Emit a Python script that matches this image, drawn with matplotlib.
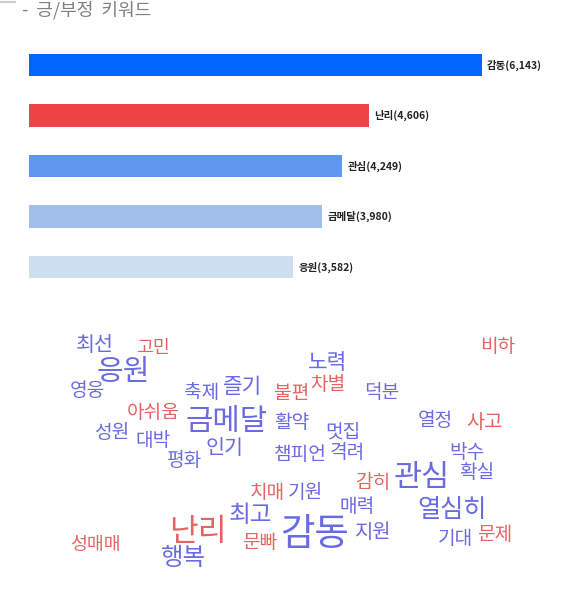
import matplotlib.pyplot as plt
from matplotlib.lines import Line2D

plt.rcParams['font.family'] = ['Noto Sans CJK KR', 'DejaVu Sans']

# bar chart data
keywords = ['감동', '난리', '관심', '금메달', '응원']
counts = [6143, 4606, 4249, 3980, 3582]
bar_colors = ['#0066ff', '#ef4444', '#6097ec', '#a1bfea', '#cedef1']

# word cloud data (word, sentiment: 1 = positive, 0 = negative)
words = ['최선', '고민', '응원', '영웅', '축제', '즐기', '불편', '차별', '노력', '덕분',
         '비하', '아쉬움', '금메달', '활약', '성원', '대박', '멋집', '열정', '사고', '인기',
         '평화', '챔피언', '격려', '박수', '관심', '감히', '확실', '치매', '기원', '매력',
         '열심히', '최고', '난리', '감동', '지원', '기대', '문제', '성매매', '문빠', '행복']
sentiment = [1, 0, 1, 1, 1, 1, 0, 0, 1, 1,
             0, 0, 1, 1, 1, 1, 1, 1, 0, 1,
             1, 1, 1, 1, 1, 0, 1, 0, 1, 1,
             1, 1, 0, 1, 1, 1, 0, 0, 0, 1]

# layout of the cloud in pixels (x, y from top-left) and font size in pt
cloud_x = [95, 153, 123, 87, 202, 243, 292, 328, 328, 382,
           498, 153, 227, 292, 112, 153, 343, 435, 485, 225,
           185, 300, 347, 467, 422, 373, 477, 267, 305, 357,
           452, 250, 198, 315, 373, 455, 495, 95, 260, 183]
cloud_y = [345, 348, 372, 390, 393, 387, 393, 385, 363, 393,
           347, 412, 422, 422, 432, 440, 432, 420, 422, 448,
           460, 455, 453, 452, 477, 482, 472, 493, 493, 507,
           510, 515, 532, 535, 533, 538, 535, 545, 543, 558]
cloud_size = [13.5, 12, 19, 12.5, 12.5, 14, 12.5, 12.5, 14, 12.5,
              12.5, 12.5, 19.5, 12.5, 12.5, 12.5, 12.5, 12.5, 13, 13.5,
              12.5, 12.5, 12.5, 12.5, 20, 12.5, 12.5, 12.5, 12.5, 12.5,
              16.5, 15.5, 20.5, 24.5, 13, 12.5, 12.5, 12, 12.5, 16]

W, H = 580, 597
fig = plt.figure(figsize=(W / 100, H / 100), dpi=100)

fig.text(22 / W, 1 - 10 / H, '-  긍/부정  키워드', fontsize=13, color='#808080',
         va='center', ha='left')
fig.add_artist(Line2D([0, 15 / W], [1 - 2 / H, 1 - 2 / H], color='#cccccc', lw=1.5))

# bars
ax = fig.add_axes([29 / W, (H - 292.25) / H, 516 / W, 252.5 / H])
ypos = list(range(len(keywords)))
ax.barh(ypos, counts, height=0.455, color=bar_colors)
for y, k, c in zip(ypos, keywords, counts):
    ax.text(c + 70, y, f'{k}({c:,})', va='center', ha='left', fontsize=7.5,
            fontweight='bold', color='#222222')
ax.set_xlim(0, 7000)
ax.set_ylim(4.5, -0.5)
ax.axis('off')

# word cloud
pos_color = '#6a6ae2'
neg_color = '#e46464'
for w, s, x, y, fs in zip(words, sentiment, cloud_x, cloud_y, cloud_size):
    fig.text(x / W, 1 - y / H, w, fontsize=fs * 1.1, ha='center', va='center',
             color=pos_color if s else neg_color)

fig.savefig('out.png', dpi=100)
